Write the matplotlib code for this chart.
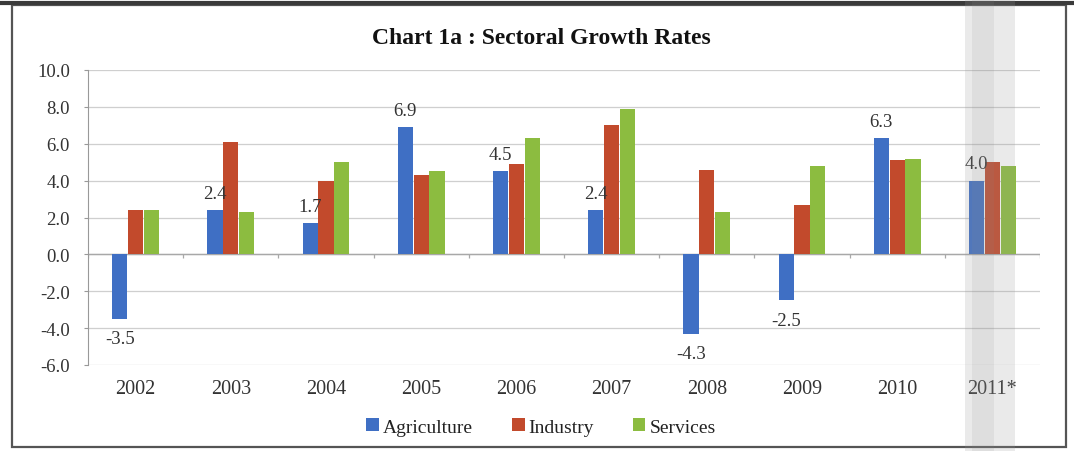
import matplotlib
matplotlib.use("Agg")
import matplotlib.pyplot as plt
from matplotlib.patches import Rectangle, Patch
from matplotlib.lines import Line2D
import numpy as np

plt.rcParams['font.family'] = ['Liberation Serif', 'DejaVu Serif']

years = ["2002", "2003", "2004", "2005", "2006", "2007", "2008", "2009", "2010", "2011*"]
agriculture = [-3.5, 2.4, 1.7, 6.9, 4.5, 2.4, -4.3, -2.5, 6.3, 4.0]
industry = [2.4, 6.1, 4.0, 4.3, 4.9, 7.0, 4.6, 2.7, 5.1, 5.0]
services = [2.4, 2.3, 5.0, 4.5, 6.3, 7.9, 2.3, 4.8, 5.2, 4.8]
series_names = ["Agriculture", "Industry", "Services"]
series_colors = ["#3F6FC4", "#C24A2C", "#8CBC40"]
y_ticks = [-6.0, -4.0, -2.0, 0.0, 2.0, 4.0, 6.0, 8.0, 10.0]

W, H = 1074, 452
fig = plt.figure(figsize=(W / 100, H / 100), dpi=100)
fig.patch.set_facecolor("white")

ax = fig.add_axes([88 / W, 1 - 366 / H, (1040 - 88) / W, (366 - 71) / H])
x = np.arange(len(years))
bw = 0.158
offsets = [-0.166, 0.0, 0.166]
for vals, off, col, name in zip([agriculture, industry, services], offsets,
                                series_colors, series_names):
    ax.bar(x + off, vals, width=bw, color=col, label=name, zorder=3)

# value labels on the agriculture bars
for xi, v in zip(x, agriculture):
    if v >= 0:
        ax.annotate(f"{v:.1f}", (xi + offsets[0], v), xytext=(0, 6),
                    textcoords="offset points", ha="center", va="bottom",
                    fontsize=13.5, color="#333333", zorder=4)
    else:
        ax.annotate(f"{v:.1f}", (xi + offsets[0], v), xytext=(0, -8),
                    textcoords="offset points", ha="center", va="top",
                    fontsize=13.5, color="#333333", zorder=4)

ax.set_xlim(-0.5, len(years) - 0.5)
ax.set_ylim(-6, 10)
ax.set_yticks(y_ticks)
ax.set_yticklabels([f"{t:.1f}" for t in y_ticks])
ax.set_xticks(x)
ax.set_xticklabels(years)
ax.tick_params(axis="x", length=0, pad=10, labelsize=14.5, labelcolor="#333333")
ax.tick_params(axis="y", length=3, width=0.8, color="#999999", pad=10,
               labelsize=13.5, labelcolor="#333333")

ax.grid(axis="y", color="#cfcfcf", linewidth=0.9, zorder=0)
ax.set_axisbelow(True)
for s in ["top", "right", "bottom"]:
    ax.spines[s].set_visible(False)
ax.spines["left"].set_color("#999999")
ax.spines["left"].set_linewidth(0.8)

# category axis drawn along zero with small boundary ticks
ax.axhline(0, color="#a8a8a8", linewidth=1.0, zorder=2)
bounds = np.arange(len(years) + 1) - 0.5
ax.vlines(bounds, -0.22, 0, color="#a8a8a8", linewidth=0.9, zorder=2)

fig.text(541 / W, 1 - 38 / H, "Chart 1a : Sectoral Growth Rates",
         ha="center", va="center", fontsize=17, fontweight="bold", color="#111111")

handles = [Patch(facecolor=c, edgecolor="none") for c in series_colors]
fig.legend(handles, series_names, loc="center", bbox_to_anchor=(541 / W, 1 - 428 / H),
           ncol=3, frameon=False, fontsize=14, handlelength=0.65, handleheight=0.65,
           handletextpad=0.2, columnspacing=2.0, labelcolor="#222222")

# outer frame
fig.add_artist(Rectangle((12 / W, 1 - 448 / H), (1066 - 12) / W, (448 - 6) / H,
                         transform=fig.transFigure, fill=False,
                         edgecolor="#555555", linewidth=1.6))
fig.add_artist(Line2D([0, 1], [1 - 4 / H, 1 - 4 / H], transform=fig.transFigure,
                      color="#3a3a3a", linewidth=3))

# faint grey band on the right
fig.add_artist(Rectangle((965 / W, 0), 50 / W, 1, transform=fig.transFigure,
                         facecolor="#9a9a9a", alpha=0.2, edgecolor="none", zorder=10))
fig.add_artist(Rectangle((972 / W, 0), 22 / W, 1, transform=fig.transFigure,
                         facecolor="#8a8a8a", alpha=0.12, edgecolor="none", zorder=10))

fig.savefig("out.png", dpi=100)
